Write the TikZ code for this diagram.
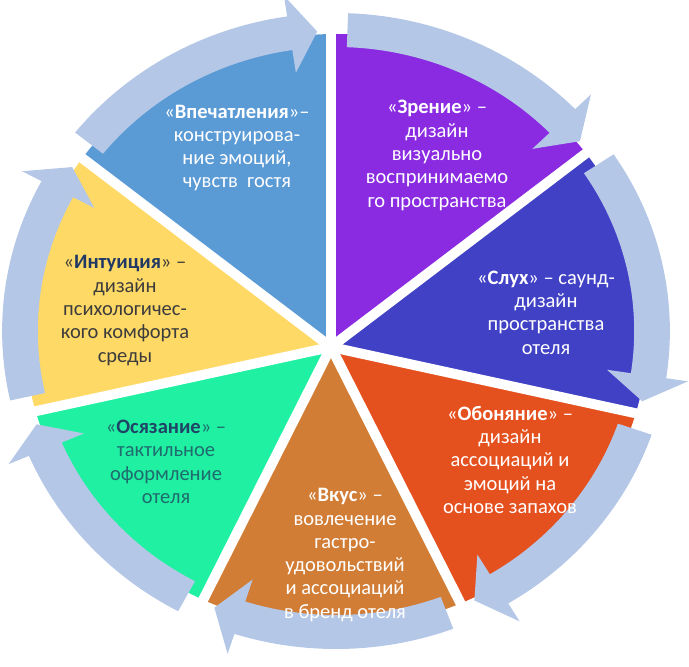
\documentclass[tikz,border=0pt]{standalone}
\usepackage{fontspec}
\setmainfont{Carlito}
\definecolor{segA}{HTML}{5B9BD5}
\definecolor{segB}{HTML}{8A2BE2}
\definecolor{segC}{HTML}{4141C6}
\definecolor{segD}{HTML}{E5501F}
\definecolor{segE}{HTML}{D27D35}
\definecolor{segF}{HTML}{20F0A2}
\definecolor{segG}{HTML}{FFD966}
\definecolor{arrowblue}{HTML}{B4C7E7}
\definecolor{tealtext}{HTML}{1F6B6E}
\definecolor{tealbold}{HTML}{1F4466}
\definecolor{graytext}{HTML}{3C3C3C}
\definecolor{navybold}{HTML}{203864}
\newcommand\cycarrow[3]{%
  \fill[arrowc] (#1:318) arc[start angle=#1, end angle=#3, radius=318]
    -- (#3:339) -- (#2:300) -- (#3:261) -- (#3:284)
    arc[start angle=#3, end angle=#1, radius=284] -- cycle;}
\begin{document}
\begin{tikzpicture}[x=1pt,y=1pt,
  txt/.style={align=center, inner sep=0pt, font=\fontsize{20.5}{23.3}\selectfont},
  wtxt/.style={txt, text=white},
  arrowc/.style={fill=arrowblue},
  gapline/.style={white, line width=10pt}]
\useasboundingbox (0,0) rectangle (689,667);
\begin{scope}[shift={(336,336)}, xscale=1.05]
  \coordinate (P) at (-4.8,-16);
  \begin{scope}
    \clip (0,0) circle[radius=297];
    \fill[segA] (P) -- +(90:700) -- +(141.43:700) -- cycle;
    \fill[segB] (P) -- +(38.57:700) -- +(90:700) -- cycle;
    \fill[segC] (P) -- +(-12.86:700) -- +(38.57:700) -- cycle;
    \fill[segD] (P) -- +(-64.29:700) -- +(-12.86:700) -- cycle;
    \fill[segE] (P) -- +(-115.71:700) -- +(-64.29:700) -- cycle;
    \fill[segF] (P) -- +(-167.14:700) -- +(-115.71:700) -- cycle;
    \fill[segG] (P) -- +(141.43:700) -- +(192.86:700) -- cycle;
  \end{scope}
  \foreach \a in {90,38.57,-12.86,-64.29,-115.71,-167.14,141.43}
    \draw[gapline] (P) -- +(\a:340);
  \cycarrow{141.38}{93.42}{98.42}
  \cycarrow{87.92}{39.25}{44.25}
  \cycarrow{33.75}{-13.54}{-8.54}
  \cycarrow{-19.04}{-63.94}{-58.94}
  \cycarrow{-69.44}{-112.72}{-107.72}
  \cycarrow{-118.22}{-161.88}{-156.88}
  \cycarrow{-167.38}{-213.12}{-208.12}
\end{scope}
\node[wtxt] (t1) at (237,519) {«\textbf{Впечатления}»–\\конструирова-\\ние эмоций,\\чувств\ \ гостя};
\node[wtxt] (t2) at (437,511.5) {«\textbf{Зрение}» –\\дизайн\\визуально\\воспринимаемо\\го пространства};
\node[wtxt] (t3) at (546,354.5) {«\textbf{Слух}» – саунд-\\дизайн\\пространства\\отеля};
\node[wtxt] (t4) at (510,207) {«\textbf{Обоняние}» –\\дизайн\\ассоциаций и\\эмоций на\\основе запахов};
\node[wtxt] (t5) at (345,112) {«\textbf{Вкус}» –\\вовлечение\\гастро-\\удовольствий\\и ассоциаций\\в бренд отеля};
\node[txt, text=tealtext] (t6) at (166,205) {«\textbf{\textcolor{tealbold}{Осязание}}» –\\тактильное\\оформление\\отеля};
\node[txt, text=graytext] (t7) at (125,356.5) {«\textbf{\textcolor{navybold}{Интуиция}}» –\\дизайн\\психологичес-\\кого комфорта\\среды};
\end{tikzpicture}
\end{document}
